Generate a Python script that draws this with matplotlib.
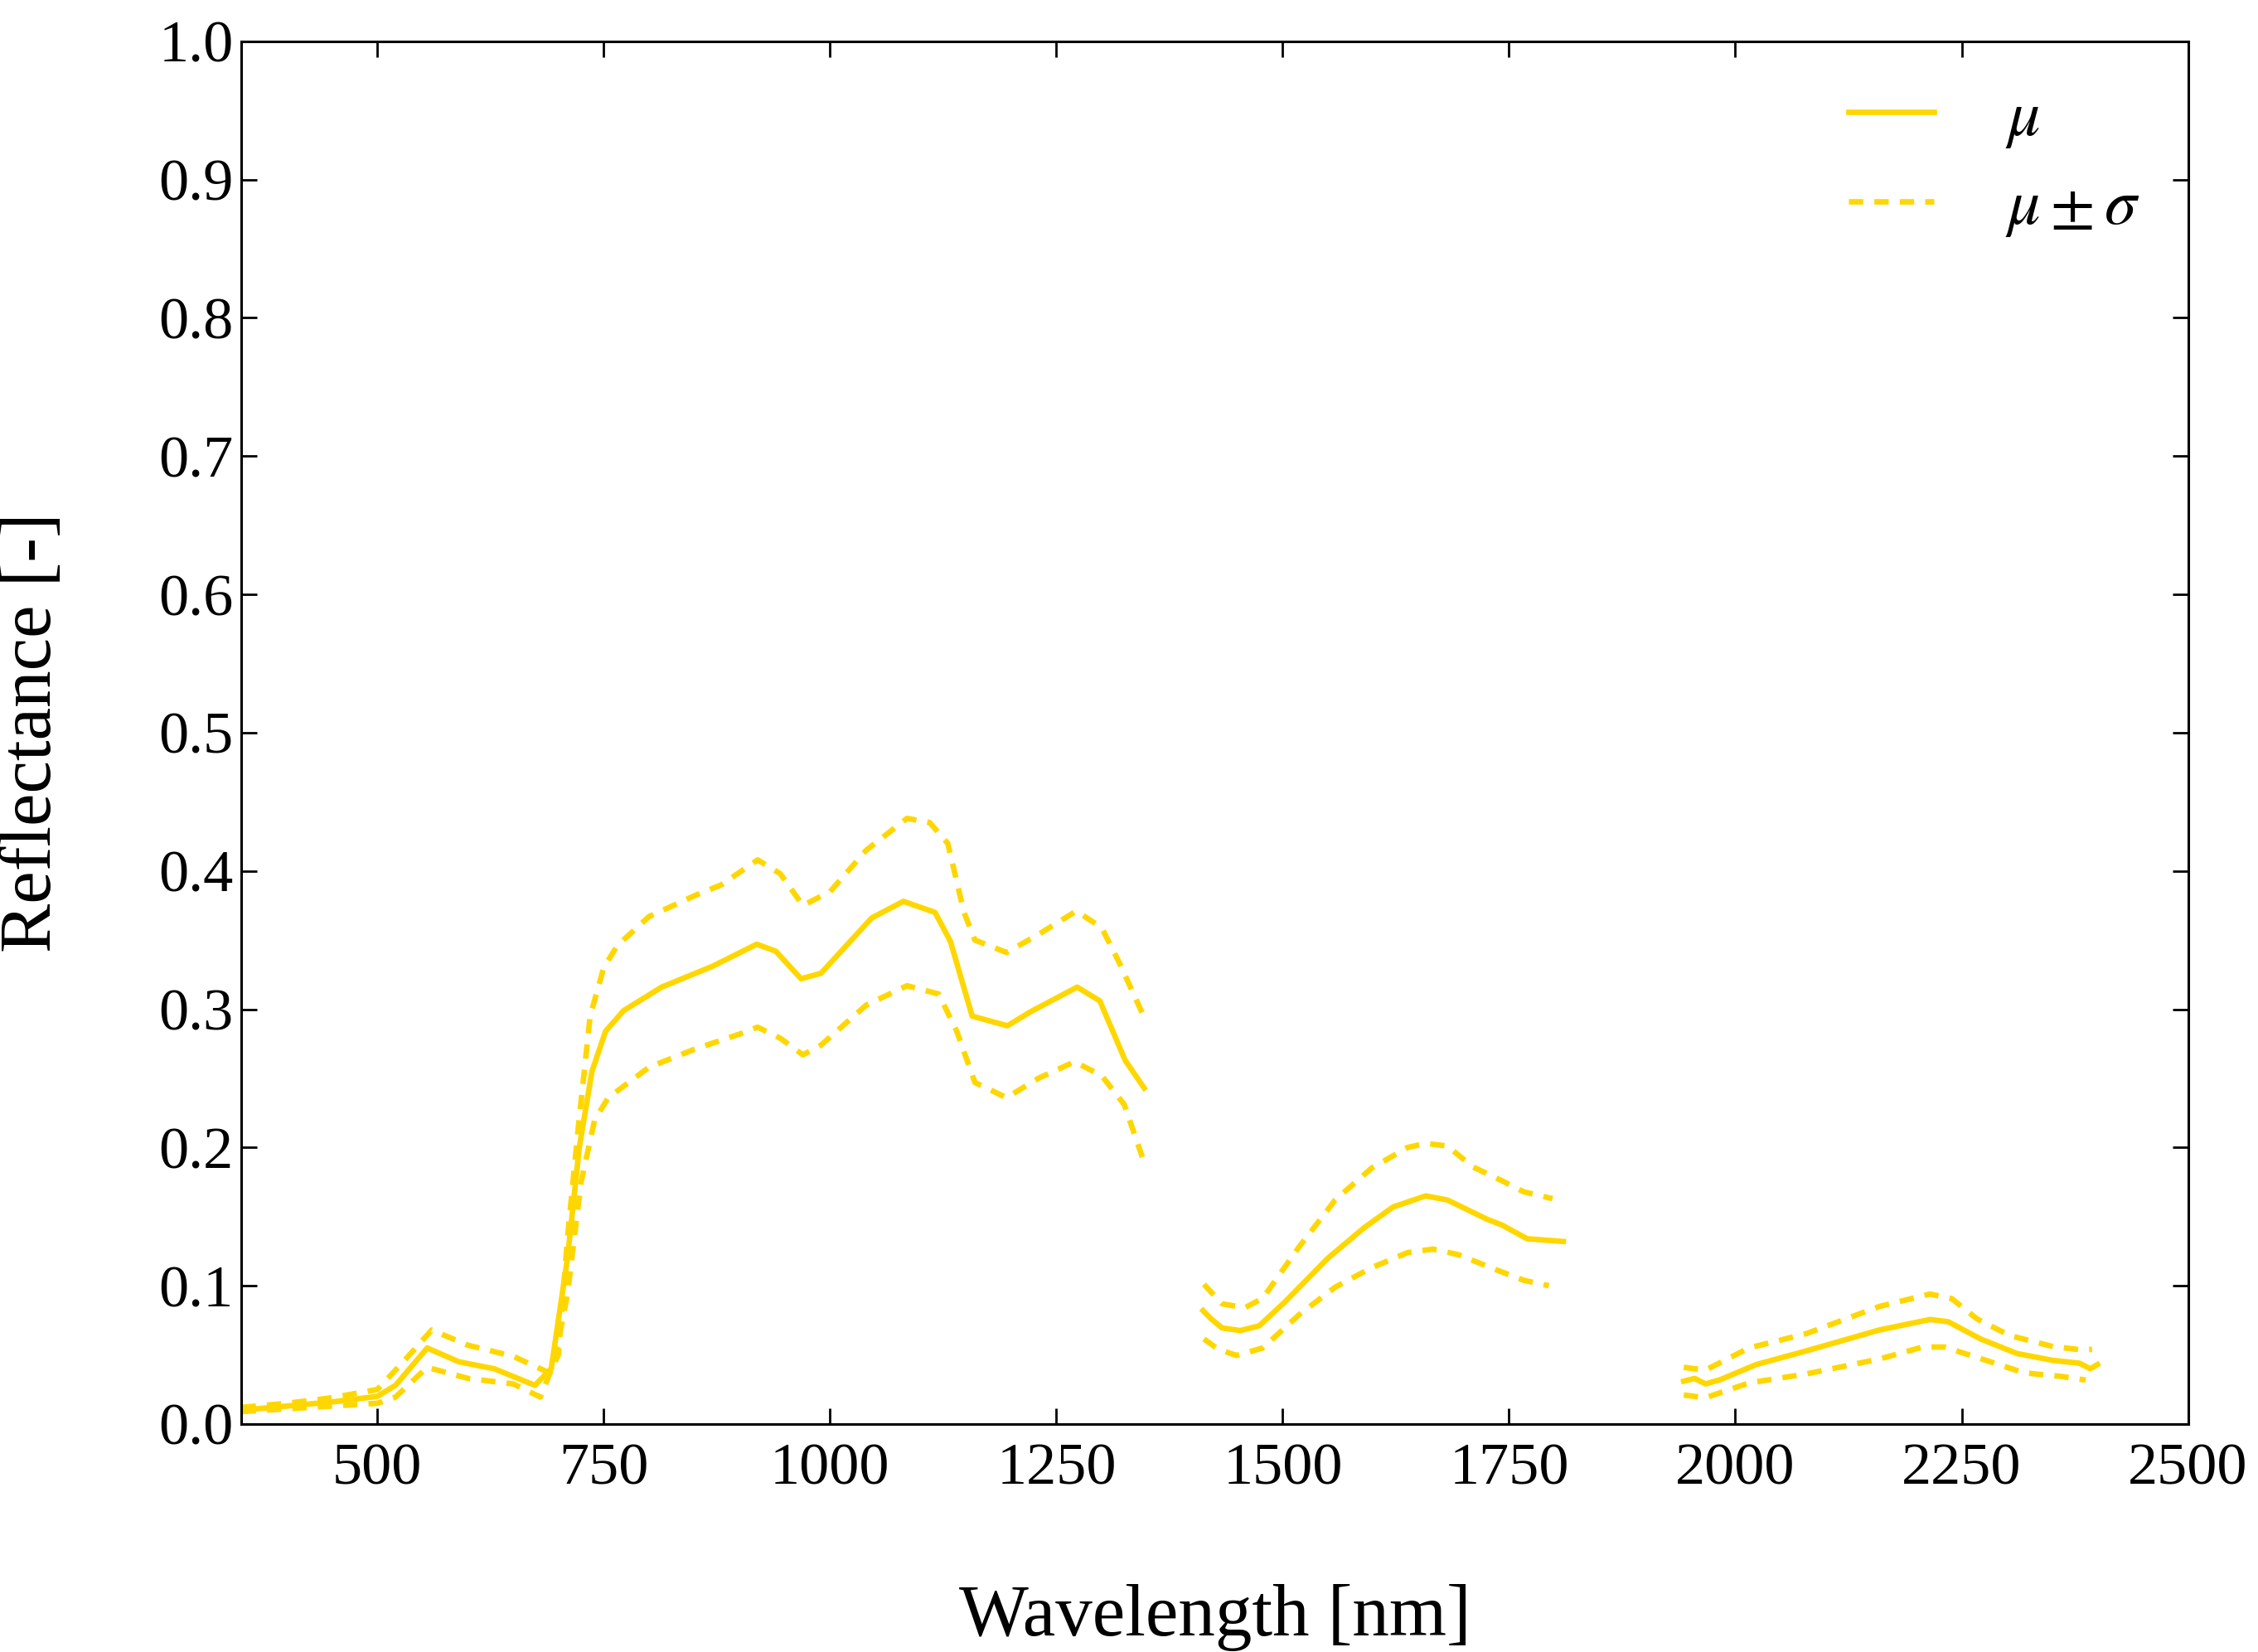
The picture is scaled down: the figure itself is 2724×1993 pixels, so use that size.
import numpy as np
import matplotlib
matplotlib.use("Agg")
import matplotlib.pyplot as plt

plt.rcParams['font.family'] = ['Liberation Serif', 'DejaVu Serif']
plt.rcParams['mathtext.fontset'] = 'stix'
plt.rcParams['xtick.direction'] = 'in'
plt.rcParams['ytick.direction'] = 'in'
plt.rcParams['xtick.top'] = True
plt.rcParams['ytick.right'] = True

nan = np.nan

# mean reflectance (three bands, NaN marks water absorption gaps)
wl_mu = [350, 400, 450, 500, 520, 555, 590, 629, 674, 692, 710, 723, 737, 752,
         772, 814, 870, 919, 940, 968, 990, 1046, 1081, 1116, 1133, 1157,
         1196, 1221, 1273, 1298, 1326, 1347,
         nan,
         1412, 1421, 1433, 1453, 1474, 1502, 1550, 1590, 1622, 1658, 1682,
         1726, 1742, 1770, 1810,
         nan,
         1943, 1955, 1967, 1983, 2023, 2079, 2159, 2215, 2235, 2271, 2311,
         2351, 2380, 2392, 2400]
mu = [0.010, 0.013, 0.016, 0.020, 0.028, 0.055, 0.045, 0.040, 0.028, 0.040,
      0.120, 0.200, 0.255, 0.284, 0.299, 0.316, 0.331, 0.347, 0.342, 0.322,
      0.326, 0.366, 0.378, 0.370, 0.349, 0.295, 0.288, 0.298, 0.316, 0.306,
      0.263, 0.243,
      nan,
      0.082, 0.076, 0.0695, 0.0676, 0.071, 0.088, 0.120, 0.142, 0.157, 0.165,
      0.162, 0.148, 0.144, 0.134, 0.132,
      nan,
      0.031, 0.033, 0.029, 0.032, 0.043, 0.053, 0.068, 0.0756, 0.074, 0.0615,
      0.051, 0.046, 0.044, 0.040, 0.043]

# mu + sigma
wl_up = [350, 400, 450, 500, 530, 560, 600, 650, 690, 700, 710, 722, 735, 750,
         765, 800, 850, 880, 920, 945, 970, 1000, 1040, 1085, 1110, 1130,
         1148, 1160, 1195, 1230, 1272, 1300, 1320, 1345,
         nan,
         1413, 1433, 1458, 1478, 1518, 1558, 1598, 1638, 1658, 1682, 1710,
         1742, 1766, 1798,
         nan,
         1943, 1967, 2015, 2079, 2159, 2215, 2239, 2267, 2303, 2351, 2383,
         2394]
upper = [0.012, 0.015, 0.019, 0.025, 0.046, 0.068, 0.057, 0.049, 0.037, 0.050,
         0.135, 0.215, 0.295, 0.330, 0.346, 0.367, 0.382, 0.390, 0.408, 0.398,
         0.375, 0.385, 0.415, 0.438, 0.435, 0.420, 0.370, 0.350, 0.341, 0.354,
         0.371, 0.359, 0.333, 0.297,
         nan,
         0.101, 0.087, 0.084, 0.091, 0.128, 0.162, 0.185, 0.200, 0.203, 0.201,
         0.186, 0.176, 0.168, 0.163,
         nan,
         0.041, 0.039, 0.055, 0.0655, 0.085, 0.094, 0.0907, 0.076, 0.064,
         0.056, 0.0536, 0.054]

# mu - sigma
wl_lo = [350, 400, 450, 500, 520, 555, 600, 650, 680, 695, 710, 725, 740, 755,
         800, 850, 900, 920, 945, 970, 990, 1040, 1085, 1120, 1140, 1160,
         1195, 1230, 1270, 1300, 1325, 1345,
         nan,
         1413, 1429, 1449, 1478, 1518, 1558, 1598, 1638, 1666, 1694, 1734,
         1766, 1794,
         nan,
         1943, 1967, 2015, 2079, 2159, 2207, 2231, 2279, 2319, 2359, 2387]
lower = [0.009, 0.011, 0.013, 0.015, 0.0195, 0.041, 0.033, 0.029, 0.0195,
         0.044, 0.094, 0.175, 0.220, 0.236, 0.258, 0.271, 0.282, 0.287, 0.279,
         0.267, 0.274, 0.303, 0.317, 0.311, 0.284, 0.247, 0.236, 0.250, 0.262,
         0.252, 0.231, 0.193,
         nan,
         0.0615, 0.054, 0.0496, 0.055, 0.079, 0.099, 0.113, 0.124, 0.1265,
         0.1225, 0.112, 0.104, 0.100,
         nan,
         0.021, 0.019, 0.0297, 0.0363, 0.047, 0.0557, 0.0557, 0.0456, 0.037,
         0.0345, 0.0318]

yticks = np.arange(0, 1.01, 0.1)
xticks = [500, 750, 1000, 1250, 1500, 1750, 2000, 2250, 2500]

col = '#FFD700'
dash = (0, (2.6, 2.0))

fig = plt.figure(figsize=(13.62, 9.965), dpi=200)
ax = fig.add_axes([0.107, 0.138, 0.862, 0.837])

ax.plot(wl_mu, mu, color=col, lw=2.4, label=r'$\mu$')
ax.plot(wl_up, upper, color=col, lw=2.4, ls=dash, label=r'$\mu \pm \sigma$')
ax.plot(wl_lo, lower, color=col, lw=2.4, ls=dash)

ax.set_xlim(350, 2500)
ax.set_ylim(0, 1)
ax.set_xticks(xticks)
ax.set_yticks(yticks)
ax.set_yticklabels(['%.1f' % t for t in yticks])
ax.tick_params(labelsize=26, length=7, width=1)
ax.tick_params(axis='x', pad=8)
for s in ax.spines.values():
    s.set_linewidth(1.1)

ax.set_xlabel('Wavelength [nm]', fontsize=32, labelpad=38)
ax.set_ylabel('Reflectance [-]', fontsize=32, labelpad=40)

ax.legend(loc='upper right', frameon=False, fontsize=28, handlelength=1.33,
          handletextpad=1.1, labelspacing=0.45, borderaxespad=0.35)

fig.savefig('out.png', dpi=200)
